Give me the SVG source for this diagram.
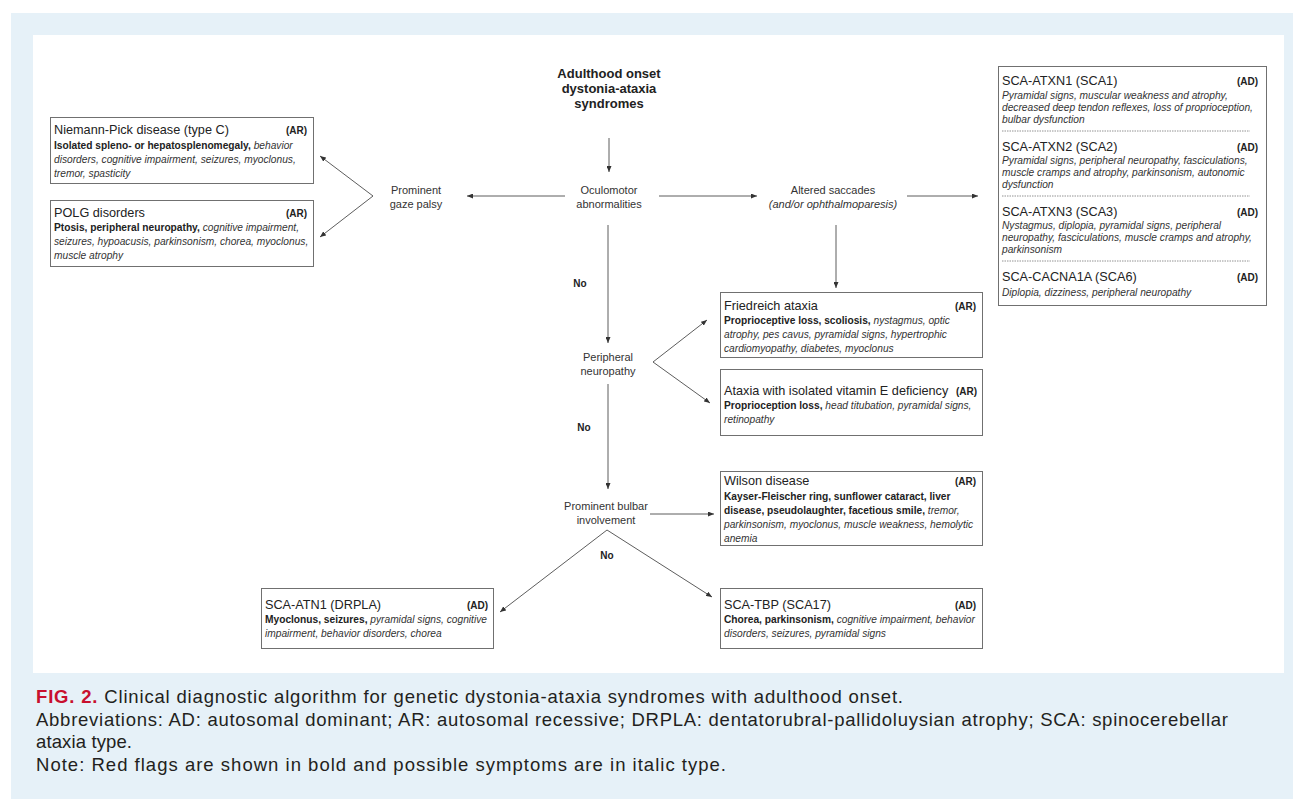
<svg xmlns="http://www.w3.org/2000/svg" width="1293" height="799" viewBox="0 0 1293 799">
<defs>
<marker id="ah" markerUnits="userSpaceOnUse" markerWidth="6" markerHeight="5" refX="6" refY="2.5" orient="auto">
<path d="M0,0 L6,2.5 L0,5 z" fill="#333"/>
</marker>
<style>
text{font-family:"Liberation Sans",Arial,sans-serif;fill:#222}
.box{fill:#fff;stroke:#707070;stroke-width:1}
.ttl{font-size:12.7px}
.b{font-size:10.2px}
.bd{font-weight:bold}
.it{font-style:italic;fill:#333}
.tag{font-size:10px;font-weight:bold;text-anchor:end}
.lbl{font-size:11px;text-anchor:middle;fill:#333}
.no{font-size:10px;font-weight:bold;text-anchor:middle}
.con line{stroke:#333;stroke-width:0.8;marker-end:url(#ah)}
.sep{stroke:#777;stroke-width:0.8;stroke-dasharray:1.5 1}
.cap{font-size:18.5px;fill:#231f20}
</style>
</defs>
<rect x="11" y="13" width="1282" height="786" fill="#e6f1f8"/>
<rect x="33" y="35" width="1251" height="638" fill="#fff"/>

<g id="start">
<text x="609" y="78" text-anchor="middle" font-size="13" font-weight="bold">Adulthood onset</text>
<text x="609" y="93" text-anchor="middle" font-size="13" font-weight="bold">dystonia-ataxia</text>
<text x="609" y="108" text-anchor="middle" font-size="13" font-weight="bold">syndromes</text>
</g>
<g id="oculomotor">
<text class="lbl" x="609" y="194">Oculomotor</text>
<text class="lbl" x="609" y="208">abnormalities</text>
</g>
<g id="gaze">
<text class="lbl" x="416" y="194">Prominent</text>
<text class="lbl" x="416" y="208">gaze palsy</text>
</g>
<g id="saccades">
<text class="lbl" x="833" y="194">Altered saccades</text>
<text class="lbl" x="833" y="208" font-style="italic">(and/or ophthalmoparesis)</text>
</g>
<g id="periph">
<text class="lbl" x="608" y="361">Peripheral</text>
<text class="lbl" x="608" y="375">neuropathy</text>
</g>
<g id="bulbar">
<text class="lbl" x="606" y="510">Prominent bulbar</text>
<text class="lbl" x="606" y="524">involvement</text>
</g>

<g id="niemann">
<rect class="box" x="50.5" y="117.5" width="263" height="66"/>
<text class="ttl" x="54" y="134">Niemann-Pick disease (type C)</text>
<text class="tag" x="307" y="134">(AR)</text>
<text class="b" x="54" y="148.5"><tspan class="bd">Isolated spleno- or hepatosplenomegaly,</tspan><tspan class="it"> behavior</tspan></text>
<text class="b it" x="54" y="162.5">disorders, cognitive impairment, seizures, myoclonus,</text>
<text class="b it" x="54" y="176.5">tremor, spasticity</text>
</g>
<g id="polg">
<rect class="box" x="50.5" y="200.5" width="263" height="66"/>
<text class="ttl" x="54" y="217">POLG disorders</text>
<text class="tag" x="307" y="217">(AR)</text>
<text class="b" x="54" y="231"><tspan class="bd">Ptosis, peripheral neuropathy,</tspan><tspan class="it"> cognitive impairment,</tspan></text>
<text class="b it" x="54" y="245">seizures, hypoacusis, parkinsonism, chorea, myoclonus,</text>
<text class="b it" x="54" y="259">muscle atrophy</text>
</g>

<g id="sca-box">
<rect class="box" x="998.5" y="66.5" width="268" height="239"/>
<text class="ttl" x="1002" y="85">SCA-ATXN1 (SCA1)</text>
<text class="tag" x="1258" y="85">(AD)</text>
<text class="b it" x="1002" y="98.5">Pyramidal signs, muscular weakness and atrophy,</text>
<text class="b it" x="1002" y="110.5">decreased deep tendon reflexes, loss of proprioception,</text>
<text class="b it" x="1002" y="122.5">bulbar dysfunction</text>
<line class="sep" x1="1002" y1="131" x2="1250" y2="131"/>
<text class="ttl" x="1002" y="151">SCA-ATXN2 (SCA2)</text>
<text class="tag" x="1258" y="151">(AD)</text>
<text class="b it" x="1002" y="163.5">Pyramidal signs, peripheral neuropathy, fasciculations,</text>
<text class="b it" x="1002" y="175.5">muscle cramps and atrophy, parkinsonism, autonomic</text>
<text class="b it" x="1002" y="187.5">dysfunction</text>
<line class="sep" x1="1002" y1="196" x2="1250" y2="196"/>
<text class="ttl" x="1002" y="216">SCA-ATXN3 (SCA3)</text>
<text class="tag" x="1258" y="216">(AD)</text>
<text class="b it" x="1002" y="228.5">Nystagmus, diplopia, pyramidal signs, peripheral</text>
<text class="b it" x="1002" y="240.5">neuropathy, fasciculations, muscle cramps and atrophy,</text>
<text class="b it" x="1002" y="252.5">parkinsonism</text>
<line class="sep" x1="1002" y1="261" x2="1250" y2="261"/>
<text class="ttl" x="1002" y="281">SCA-CACNA1A (SCA6)</text>
<text class="tag" x="1258" y="281">(AD)</text>
<text class="b it" x="1002" y="295.5">Diplopia, dizziness, peripheral neuropathy</text>
</g>

<g id="friedreich">
<rect class="box" x="720.5" y="292.5" width="262" height="65"/>
<text class="ttl" x="724" y="310">Friedreich ataxia</text>
<text class="tag" x="976" y="310">(AR)</text>
<text class="b" x="724" y="324"><tspan class="bd">Proprioceptive loss, scoliosis,</tspan><tspan class="it"> nystagmus, optic</tspan></text>
<text class="b it" x="724" y="338">atrophy, pes cavus, pyramidal signs, hypertrophic</text>
<text class="b it" x="724" y="352">cardiomyopathy, diabetes, myoclonus</text>
</g>
<g id="vitE">
<rect class="box" x="720.5" y="369.5" width="262" height="66"/>
<text class="ttl" x="724" y="395">Ataxia with isolated vitamin E deficiency</text>
<text class="tag" x="977" y="395">(AR)</text>
<text class="b" x="724" y="408.5"><tspan class="bd">Proprioception loss,</tspan><tspan class="it"> head titubation, pyramidal signs,</tspan></text>
<text class="b it" x="724" y="422.5">retinopathy</text>
</g>
<g id="wilson">
<rect class="box" x="720.5" y="471.5" width="262" height="74"/>
<text class="ttl" x="724" y="485">Wilson disease</text>
<text class="tag" x="976" y="485">(AR)</text>
<text class="b bd" x="724" y="499.5">Kayser-Fleischer ring, sunflower cataract, liver</text>
<text class="b" x="724" y="513.5"><tspan class="bd">disease, pseudolaughter, facetious smile,</tspan><tspan class="it"> tremor,</tspan></text>
<text class="b it" x="724" y="527.5">parkinsonism, myoclonus, muscle weakness, hemolytic</text>
<text class="b it" x="724" y="541.5">anemia</text>
</g>
<g id="drpla">
<rect class="box" x="261.5" y="588.5" width="232" height="60"/>
<text class="ttl" x="265" y="609">SCA-ATN1 (DRPLA)</text>
<text class="tag" x="488" y="609">(AD)</text>
<text class="b" x="265" y="622.5"><tspan class="bd">Myoclonus, seizures,</tspan><tspan class="it"> pyramidal signs, cognitive</tspan></text>
<text class="b it" x="265" y="636.5">impairment, behavior disorders, chorea</text>
</g>
<g id="sca17">
<rect class="box" x="720.5" y="588.5" width="262" height="60"/>
<text class="ttl" x="724" y="609">SCA-TBP (SCA17)</text>
<text class="tag" x="976" y="609">(AD)</text>
<text class="b" x="724" y="622.5"><tspan class="bd">Chorea, parkinsonism,</tspan><tspan class="it"> cognitive impairment, behavior</tspan></text>
<text class="b it" x="724" y="636.5">disorders, seizures, pyramidal signs</text>
</g>

<g id="connectors" class="con">
<line x1="609" y1="138" x2="609" y2="172"/>
<line x1="565" y1="196" x2="467" y2="196"/>
<line x1="373" y1="196" x2="320" y2="156"/>
<line x1="373" y1="196" x2="320" y2="237"/>
<line x1="659" y1="196" x2="757" y2="196"/>
<line x1="907" y1="196" x2="978" y2="196"/>
<line x1="836" y1="225" x2="836" y2="288"/>
<line x1="608" y1="225" x2="608" y2="343"/>
<line x1="653" y1="362" x2="707" y2="320"/>
<line x1="653" y1="362" x2="710" y2="403"/>
<line x1="608" y1="384" x2="608" y2="489"/>
<line x1="650" y1="514" x2="714" y2="514"/>
<line x1="607" y1="530" x2="500" y2="612"/>
<line x1="607" y1="530" x2="712" y2="597"/>
</g>
<g id="labels">
<text class="no" x="580" y="287">No</text>
<text class="no" x="584" y="431">No</text>
<text class="no" x="607" y="559">No</text>
</g>

<g id="caption">
<text class="cap" x="36" y="703" textLength="867" lengthAdjust="spacing"><tspan fill="#c8102e" font-weight="bold">FIG. 2.</tspan> Clinical diagnostic algorithm for genetic dystonia-ataxia syndromes with adulthood onset.</text>
<text class="cap" x="36" y="726" textLength="1192" lengthAdjust="spacing">Abbreviations: AD: autosomal dominant; AR: autosomal recessive; DRPLA: dentatorubral-pallidoluysian atrophy; SCA: spinocerebellar</text>
<text class="cap" x="36" y="748" textLength="96" lengthAdjust="spacing">ataxia type.</text>
<text class="cap" x="36" y="771" textLength="690" lengthAdjust="spacing">Note: Red flags are shown in bold and possible symptoms are in italic type.</text>
</g>
</svg>
